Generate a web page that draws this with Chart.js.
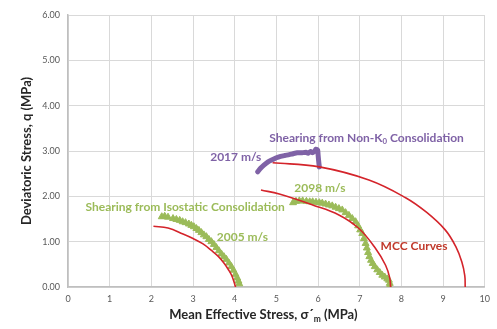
<!DOCTYPE html>
<html>
<head>
<meta charset="utf-8">
<script src="https://cdn.jsdelivr.net/npm/chart.js@4"></script>
<style>
  html, body { margin: 0; padding: 0; background: #fff; }
</style>
</head>
<body>
<canvas id="stressChart" width="497" height="329"></canvas>
<script>
// MCC curves (red)
const mccAX = [2.05, 2.40, 2.76, 3.00, 3.24, 3.45, 3.60, 3.75, 3.85, 3.93, 3.98, 4.02];
const mccAY = [1.34, 1.30, 1.17, 1.07, 0.95, 0.80, 0.68, 0.52, 0.38, 0.25, 0.12, 0.00];
const mccBX = [4.63, 5.07, 5.87, 6.50, 6.98, 7.38, 7.62, 7.72, 7.74];
const mccBY = [2.14, 2.05, 1.81, 1.59, 1.29, 0.85, 0.48, 0.20, 0.00];
const mccCX = [4.91, 6.03, 7.22, 8.10, 8.60, 9.05, 9.30, 9.45, 9.52, 9.53];
const mccCY = [2.74, 2.65, 2.36, 1.97, 1.65, 1.26, 0.90, 0.55, 0.25, 0.00];

// Shearing from Non-K0 consolidation (purple)
const nonKX = [4.55, 4.62, 4.70, 4.80, 4.91, 5.00, 5.10, 5.20, 5.31, 5.40, 5.50, 5.60, 5.71, 5.76, 5.82, 5.86, 5.91, 5.95, 5.99, 6.00, 6.01, 6.02, 6.03];
const nonKY = [2.54, 2.62, 2.69, 2.76, 2.81, 2.85, 2.88, 2.90, 2.92, 2.94, 2.96, 2.96, 2.97, 2.95, 2.99, 2.96, 2.99, 3.04, 3.02, 2.92, 2.82, 2.73, 2.65];

// Shearing from isostatic consolidation (green)
const isoAX = [2.25, 2.32, 2.40, 2.52, 2.60, 2.68, 2.75, 2.82, 2.90, 2.96, 3.02, 3.08, 3.14, 3.20, 3.26, 3.32, 3.38, 3.44, 3.50, 3.56, 3.62, 3.68, 3.74, 3.80, 3.86, 3.92, 3.97, 4.02, 4.06, 4.09, 4.11];
const isoAY = [1.55, 1.56, 1.54, 1.51, 1.49, 1.47, 1.44, 1.42, 1.39, 1.36, 1.33, 1.29, 1.25, 1.20, 1.15, 1.11, 1.05, 1.00, 0.94, 0.87, 0.80, 0.73, 0.67, 0.61, 0.53, 0.45, 0.37, 0.28, 0.20, 0.13, 0.07];
const isoBX = [5.40, 5.47, 5.55, 5.63, 5.72, 5.80, 5.87, 5.95, 6.03, 6.10, 6.18, 6.26, 6.34, 6.42, 6.50, 6.58, 6.66, 6.74, 6.82, 6.90, 6.96, 7.01, 7.06, 7.10, 7.14, 7.17, 7.20, 7.23, 7.27, 7.31, 7.36, 7.42, 7.48, 7.54, 7.60, 7.66, 7.70, 7.72, 7.71];
const isoBY = [1.86, 1.89, 1.90, 1.90, 1.89, 1.88, 1.88, 1.87, 1.86, 1.85, 1.83, 1.81, 1.79, 1.76, 1.73, 1.70, 1.64, 1.58, 1.51, 1.44, 1.35, 1.26, 1.18, 1.07, 0.96, 0.86, 0.76, 0.67, 0.59, 0.52, 0.45, 0.38, 0.32, 0.26, 0.22, 0.18, 0.15, 0.08, 0.01];

const xTicks = [0, 1, 2, 3, 4, 5, 6, 7, 8, 9, 10];
const yTicks = [0, 1, 2, 3, 4, 5, 6];

const rojo = '#d4242b';
const morado = '#7f62a6';
const verde = '#9bbb59';

function puntos(xs, ys) {
    return xs.map((x, i) => ({ x: x, y: ys[i] }));
}

function curvaMCC(xs, ys) {
    return {
        data: puntos(xs, ys),
        showLine: true,
        borderColor: rojo,
        borderWidth: 1.6,
        pointRadius: 0,
        tension: 0.4,
        fill: false
    };
}

// dibuja texto con partes en subíndice
function textoPartes(ctx, partes, x, y, size, align) {
    const bold = 'bold ';
    let total = 0;
    partes.forEach(p => {
        ctx.font = bold + (p.sub ? size * 0.65 : size) + 'px Lato, "Open Sans", sans-serif';
        p.w = ctx.measureText(p.t).width;
        total += p.w;
    });
    let cx = x;
    if (align === 'center') cx = x - total / 2;
    if (align === 'right') cx = x - total;
    ctx.textAlign = 'left';
    ctx.textBaseline = 'middle';
    partes.forEach(p => {
        ctx.font = bold + (p.sub ? size * 0.65 : size) + 'px Lato, "Open Sans", sans-serif';
        ctx.fillText(p.t, cx, p.sub ? y + size * 0.3 : y);
        cx += p.w;
    });
}

const etiquetas = {
    id: 'etiquetas',
    afterDraw(chart) {
        const { ctx, scales: { x, y } } = chart;
        ctx.save();

        ctx.fillStyle = morado;
        textoPartes(ctx, [{ t: 'Shearing from Non-K' }, { t: '0', sub: true }, { t: ' Consolidation' }],
            x.getPixelForValue(4.83), y.getPixelForValue(3.28), 12, 'left');
        textoPartes(ctx, [{ t: '2017 m/s' }], x.getPixelForValue(4.64), y.getPixelForValue(2.86), 12, 'right');

        ctx.fillStyle = verde;
        textoPartes(ctx, [{ t: '2098 m/s' }], x.getPixelForValue(5.43), y.getPixelForValue(2.18), 12, 'left');
        textoPartes(ctx, [{ t: 'Shearing from Isostatic Consolidation' }],
            x.getPixelForValue(0.42), y.getPixelForValue(1.76), 12, 'left');
        textoPartes(ctx, [{ t: '2005 m/s' }], x.getPixelForValue(3.57), y.getPixelForValue(1.10), 12, 'left');

        ctx.fillStyle = '#c0392b';
        textoPartes(ctx, [{ t: 'MCC Curves' }], x.getPixelForValue(7.5), y.getPixelForValue(0.90), 12, 'left');

        // títulos de ejes
        ctx.fillStyle = '#262626';
        textoPartes(ctx, [{ t: 'Mean Effective Stress, σ´' }, { t: 'm', sub: true }, { t: ' (MPa)' }],
            (x.left + x.right) / 2 - 13, 315, 13, 'center');

        ctx.translate(27, (y.top + y.bottom) / 2);
        ctx.rotate(-Math.PI / 2);
        textoPartes(ctx, [{ t: 'Deviatoric Stress, q (MPa)' }], 0, 0, 13, 'center');

        ctx.restore();
    }
};

const fuenteTicks = { family: 'Lato, "Open Sans", sans-serif', size: 9 };

new Chart(document.getElementById('stressChart'), {
    type: 'scatter',
    data: {
        datasets: [
            curvaMCC(mccAX, mccAY),
            curvaMCC(mccBX, mccBY),
            curvaMCC(mccCX, mccCY),
            {
                data: puntos(nonKX, nonKY),
                showLine: true,
                borderColor: morado,
                backgroundColor: morado,
                borderWidth: 5,
                borderCapStyle: 'round',
                borderJoinStyle: 'round',
                pointRadius: 0,
                tension: 0.2
            },
            {
                data: puntos(isoAX, isoAY),
                pointStyle: 'triangle',
                pointRadius: 4,
                backgroundColor: verde,
                borderColor: verde,
                borderWidth: 1
            },
            {
                data: puntos(isoBX, isoBY),
                pointStyle: 'triangle',
                pointRadius: 4,
                backgroundColor: verde,
                borderColor: verde,
                borderWidth: 1
            }
        ]
    },
    options: {
        responsive: false,
        animation: false,
        devicePixelRatio: 1,
        layout: { padding: { left: 0, right: 10, top: 15, bottom: 0 } },
        plugins: {
            legend: { display: false },
            tooltip: { enabled: false }
        },
        scales: {
            x: {
                type: 'linear',
                min: xTicks[0],
                max: xTicks[xTicks.length - 1],
                afterBuildTicks: s => { s.ticks = xTicks.map(v => ({ value: v })); },
                afterFit: s => { s.height = 42; },
                ticks: { color: '#595959', font: fuenteTicks, padding: 7, callback: v => v },
                grid: { color: '#d9d9d9', drawTicks: false },
                border: { color: '#bfbfbf', width: 1.5 }
            },
            y: {
                type: 'linear',
                min: yTicks[0],
                max: yTicks[yTicks.length - 1],
                afterBuildTicks: s => { s.ticks = yTicks.map(v => ({ value: v })); },
                afterFit: s => { s.width = 68; },
                ticks: { color: '#595959', font: fuenteTicks, padding: 8, callback: v => v.toFixed(2) },
                grid: { color: '#d9d9d9', drawTicks: false },
                border: { color: '#bfbfbf', width: 1.5 }
            }
        }
    },
    plugins: [etiquetas]
});
</script>
</body>
</html>
